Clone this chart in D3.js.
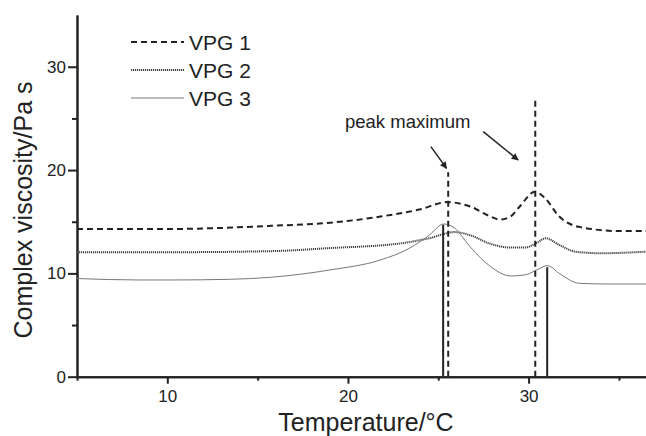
<!DOCTYPE html>
<html>
<head>
<meta charset="utf-8">
<script src="https://cdn.jsdelivr.net/npm/d3@7"></script>
<style>
  body { margin: 0; background: #fff; }
  svg { display: block; font-family: "Liberation Sans", Arial, sans-serif; }
</style>
</head>
<body>
<svg width="646" height="436"></svg>
<script>
// temperature (°C) / complex viscosity (Pa s)
const vpg1 = [[5, 14.3], [8, 14.3], [10.2, 14.3], [13, 14.4], [15.7, 14.6], [19, 14.9], [21.8, 15.5],
  [24, 16.2], [25.5, 16.9], [26.8, 16.45], [27.9, 15.5], [28.4, 15.2], [29, 15.5], [29.5, 16.45],
  [30.35, 17.9], [30.9, 17.3], [31.7, 15.5], [32.8, 14.5], [35, 14.1], [36.5, 14.1]];
const vpg2 = [[5, 12.05], [10.2, 12.05], [15.7, 12.15], [19, 12.45], [22.9, 12.9], [24.5, 13.4],
  [25.9, 14.0], [26.75, 13.7], [27.9, 12.85], [29, 12.5], [29.8, 12.5], [30.45, 12.95], [30.95, 13.4],
  [31.7, 12.75], [32.6, 12.1], [34, 11.95], [36.5, 12.1]];
const vpg3 = [[5, 9.5], [8.5, 9.36], [10.2, 9.36], [13.5, 9.43], [15.7, 9.62], [19, 10.33], [21.8, 11.3],
  [23.4, 12.43], [24.5, 13.7], [25.3, 14.78], [25.9, 14.4], [26.75, 12.6], [27.9, 10.65], [29, 9.75],
  [29.8, 9.85], [30.45, 10.33], [31.05, 10.75], [31.7, 10.0], [32.8, 9.04], [34.5, 8.97], [36.5, 8.97]];

const seriesNames = ['VPG 1', 'VPG 2', 'VPG 3'];

// peak markers: x position, top value, solid or dashed
const peakLines = [
  {x: 25.27, top: 14.7, dashed: false},
  {x: 25.55, top: 19.8, dashed: true},
  {x: 30.37, top: 26.85, dashed: true},
  {x: 31.03, top: 10.6, dashed: false}
];
// arrows [x0, y0, x1, y1] in data units
const arrows = [[24.59, 22.27, 25.46, 20.17], [27.49, 23.72, 29.42, 20.98]];

const xMajor = [10, 20, 30];
const xMinor = [5, 15, 25, 35];
const yMajor = [0, 10, 20, 30];
const yMinor = [5, 15, 25];

const svg = d3.select('svg');
const ink = '#222';

const x = d3.scaleLinear().domain([5, 36.5]).range([77, 646]);
const y = d3.scaleLinear().domain([0, 35]).range([376.7, 15.1]);

const line = d3.line()
  .x(d => x(d[0]))
  .y(d => y(d[1]))
  .curve(d3.curveMonotoneX);

const styles = [
  {stroke: ink, width: 2, dash: '6,4'},
  {stroke: '#444', width: 2, dash: '1.2,0.8'},
  {stroke: '#777', width: 1, dash: null}
];

// axes
const xAxis = svg.append('g').attr('transform', `translate(0,${y(0)})`);
xAxis.call(d3.axisBottom(x).tickValues(xMajor).tickSize(7).tickSizeOuter(0).tickPadding(6));
const xAxisMinor = svg.append('g').attr('transform', `translate(0,${y(0)})`);
xAxisMinor.call(d3.axisBottom(x).tickValues(xMinor).tickSize(4).tickSizeOuter(0).tickFormat(''));

const yAxis = svg.append('g').attr('transform', `translate(${x(5)},0)`);
yAxis.call(d3.axisLeft(y).tickValues(yMajor).tickSize(9).tickSizeOuter(0).tickPadding(2));
const yAxisMinor = svg.append('g').attr('transform', `translate(${x(5)},0)`);
yAxisMinor.call(d3.axisLeft(y).tickValues(yMinor).tickSize(5).tickSizeOuter(0).tickFormat(''));

svg.selectAll('.domain').attr('stroke', ink).attr('stroke-width', 2);
svg.selectAll('.tick line').attr('stroke', ink).attr('stroke-width', 2);
svg.selectAll('.tick text')
  .attr('fill', ink)
  .style('font-size', '17px')
  .style('font-family', '"Liberation Sans", Arial, sans-serif');

// axis titles
svg.append('text')
  .attr('x', 366).attr('y', 431)
  .attr('text-anchor', 'middle')
  .attr('fill', ink)
  .style('font-size', '25px')
  .text('Temperature/°C');

svg.append('text')
  .attr('transform', 'translate(32,210) rotate(-90)')
  .attr('text-anchor', 'middle')
  .attr('fill', ink)
  .style('font-size', '25px')
  .text('Complex viscosity/Pa s');

// curves
[vpg1, vpg2, vpg3].forEach((data, i) => {
  svg.append('path')
    .datum(data)
    .attr('fill', 'none')
    .attr('stroke', styles[i].stroke)
    .attr('stroke-width', styles[i].width)
    .attr('stroke-dasharray', styles[i].dash)
    .attr('d', line);
});

// vertical peak markers
svg.selectAll('.peak')
  .data(peakLines)
  .join('line')
  .attr('class', 'peak')
  .attr('x1', d => x(d.x)).attr('x2', d => x(d.x))
  .attr('y1', y(0)).attr('y2', d => y(d.top))
  .attr('stroke', ink)
  .attr('stroke-width', 2)
  .attr('stroke-dasharray', d => d.dashed ? '6,4' : null);

// arrows
svg.append('defs').append('marker')
  .attr('id', 'head')
  .attr('viewBox', '0 0 10 10')
  .attr('refX', 9).attr('refY', 5)
  .attr('markerWidth', 9).attr('markerHeight', 7)
  .attr('markerUnits', 'userSpaceOnUse')
  .attr('orient', 'auto')
  .append('path')
  .attr('d', 'M0,0L10,5L0,10Z')
  .attr('fill', ink);

svg.selectAll('.arrow')
  .data(arrows)
  .join('line')
  .attr('class', 'arrow')
  .attr('x1', d => x(d[0])).attr('y1', d => y(d[1]))
  .attr('x2', d => x(d[2])).attr('y2', d => y(d[3]))
  .attr('stroke', ink)
  .attr('stroke-width', 1.5)
  .attr('marker-end', 'url(#head)');

svg.append('text')
  .attr('x', 345).attr('y', 128)
  .attr('fill', ink)
  .style('font-size', '18.5px')
  .text('peak maximum');

// legend
const legend = svg.append('g');
seriesNames.forEach((name, i) => {
  const ly = 42 + i * 28;
  legend.append('line')
    .attr('x1', 131).attr('x2', 184)
    .attr('y1', ly).attr('y2', ly)
    .attr('stroke', styles[i].stroke)
    .attr('stroke-width', styles[i].width)
    .attr('stroke-dasharray', styles[i].dash);
  legend.append('text')
    .attr('x', 189).attr('y', ly + 8)
    .attr('fill', ink)
    .style('font-size', '21px')
    .text(name);
});
</script>
</body>
</html>
